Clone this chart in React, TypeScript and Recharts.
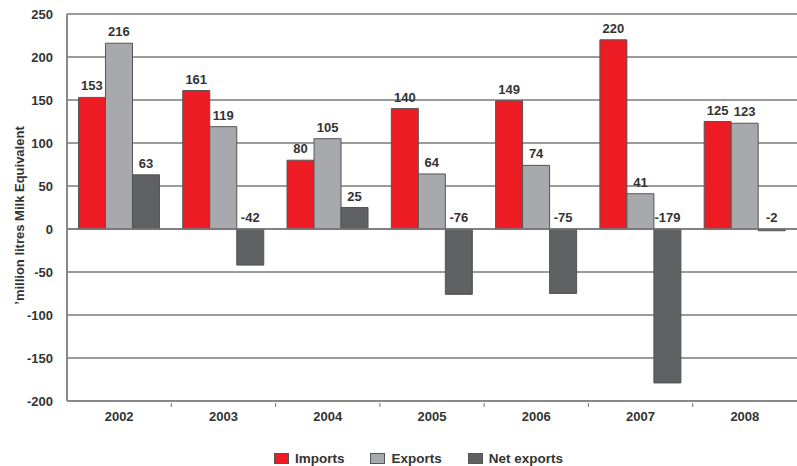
import {
  BarChart,
  Bar,
  XAxis,
  YAxis,
  CartesianGrid,
  Legend,
  LabelList,
  ReferenceLine,
} from "recharts";

const years = ["2002", "2003", "2004", "2005", "2006", "2007", "2008"];
const imports = [153, 161, 80, 140, 149, 220, 125];
const exportsVals = [216, 119, 105, 64, 74, 41, 123];
const netExports = [63, -42, 25, -76, -75, -179, -2];
const yTicks = [-200, -150, -100, -50, 0, 50, 100, 150, 200, 250];

const SERIES = [
  { key: "imports", name: "Imports", color: "#ed1c24" },
  { key: "exports", name: "Exports", color: "#a7a9ac" },
  { key: "net", name: "Net exports", color: "#5f6062" },
];

const data = years.map((year, i) => ({
  year,
  imports: imports[i],
  exports: exportsVals[i],
  net: netExports[i],
}));

const FONT = "'Liberation Sans', Arial, sans-serif";
const BAND = (797 - 67) / years.length;

function ValueLabel(props: any) {
  const { x, y, width, height, value } = props;
  const top = Math.min(y, y + height);
  return (
    <text
      x={x + width / 2}
      y={top - 7}
      textAnchor="middle"
      fontFamily={FONT}
      fontWeight="bold"
      fontSize={13}
      fill="#333"
    >
      {value}
    </text>
  );
}

function YearTick(props: any) {
  const { x, y, payload, index } = props;
  return (
    <g>
      {index > 0 && (
        <line x1={x - BAND / 2} x2={x - BAND / 2} y1={y - 6} y2={y - 2} stroke="#777" strokeWidth={1} />
      )}
      <text
        x={x}
        y={y + 12}
        textAnchor="middle"
        fontFamily={FONT}
        fontWeight="bold"
        fontSize={13}
        fill="#333"
      >
        {payload.value}
      </text>
    </g>
  );
}

function LegendBox() {
  return (
    <div
      style={{
        display: "flex",
        justifyContent: "center",
        gap: 26,
        fontFamily: FONT,
        fontWeight: "bold",
        fontSize: 13.5,
        color: "#333",
        paddingLeft: 40,
        paddingTop: 9,
      }}
    >
      {SERIES.map((s) => (
        <div key={s.key} style={{ display: "flex", alignItems: "center", gap: 6 }}>
          <span
            style={{
              display: "inline-block",
              width: 13,
              height: 9,
              background: s.color,
              border: "1px solid #555",
            }}
          />
          {s.name}
        </div>
      ))}
    </div>
  );
}

export default function App() {
  return (
    <div style={{ width: 797, height: 466, background: "#fff" }}>
      <style>{`body{margin:0}`}</style>
      <BarChart
        width={797}
        height={466}
        data={data}
        margin={{ top: 14, right: 0, left: 0, bottom: 0 }}
        barCategoryGap="11%"
        barGap={0}
      >
        <CartesianGrid vertical={false} stroke="#7a7a7a" strokeWidth={1.5} />
        <XAxis
          dataKey="year"
          orientation="bottom"
          height={41}
          tickLine={false}
          axisLine={{ stroke: "#888", strokeWidth: 2 }}
          tick={<YearTick />}
          interval={0}
        />
        <YAxis
          width={67}
          domain={[-200, 250]}
          ticks={yTicks}
          interval={0}
          tickLine={false}
          axisLine={{ stroke: "#888", strokeWidth: 2 }}
          tick={{ fontFamily: FONT, fontWeight: "bold", fontSize: 13, fill: "#333" }}
          tickMargin={8}
          label={{
            value: "’million litres Milk Equivalent",
            angle: -90,
            position: "insideLeft",
            dx: 14,
            dy: 8,
            style: { fontFamily: FONT, fontWeight: "bold", fontSize: 13, fill: "#333", textAnchor: "middle" },
          }}
        />
        <ReferenceLine y={0} stroke="#7a7a7a" strokeWidth={1.5} />
        <Legend verticalAlign="bottom" height={24} content={<LegendBox />} />
        {SERIES.map((s) => (
          <Bar
            key={s.key}
            dataKey={s.key}
            name={s.name}
            fill={s.color}
            stroke="#555"
            strokeWidth={1}
            isAnimationActive={false}
          >
            <LabelList dataKey={s.key} content={<ValueLabel />} />
          </Bar>
        ))}
      </BarChart>
    </div>
  );
}
